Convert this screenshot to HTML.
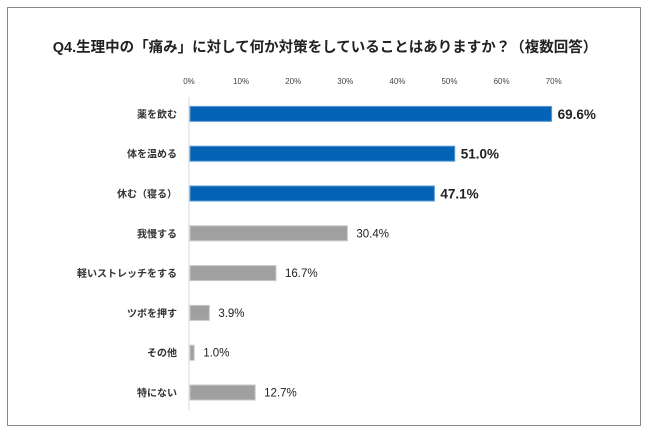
<!DOCTYPE html>
<html><head><meta charset="utf-8">
<style>
body{margin:0;background:#fff;width:650px;height:434px;overflow:hidden;font-family:"Liberation Sans","Noto Sans CJK JP",sans-serif;}
#frame{position:absolute;left:7px;top:7px;width:634px;height:419px;border:1.5px solid #8a8a8a;box-sizing:border-box;}
#title{position:absolute;left:0;width:650px;top:36px;text-align:center;font-size:14.5px;font-weight:bold;color:#222;}
</style></head><body>
<div id="frame"></div>
<div id="title">Q4.生理中の「痛み」に対して何か対策をしていることはありますか？（複数回答）</div>
<svg id="chart" width="650" height="434" style="position:absolute;left:0;top:0"></svg>
<script>
const categories=["薬を飲む","体を温める","休む（寝る）","我慢する","軽いストレッチをする","ツボを押す","その他","特にない"];
const values=[69.6,51.0,47.1,30.4,16.7,3.9,1.0,12.7];
const highlighted=[true,true,true,false,false,false,false,false];
const ticks=[0,10,20,30,40,50,60,70];
const tickLabels=["0%","10%","20%","30%","40%","50%","60%","70%"];
const NS="http://www.w3.org/2000/svg";
const svg=document.getElementById('chart');
const x0=189,pxPer=5.21,yTop=97,band=39.8,barH=15;
const xs=v=>x0+v*pxPer;
const yc=i=>yTop+band*(i+0.5)-3;
function mk(t,a){const e=document.createElementNS(NS,t);for(const k in a)e.setAttribute(k,a[k]);svg.appendChild(e);return e;}
ticks.forEach((t,i)=>{
  const e=mk('text',{x:xs(t),y:84,'text-anchor':'middle','font-size':8,fill:'#444'});
  e.textContent=tickLabels[i];
  
  
});
const ax=mk('line',{x1:x0,x2:x0,y1:yTop,y2:410,stroke:'#d9d9d9','stroke-width':1});


categories.forEach((c,i)=>{
  const y=yc(i);
  const l=mk('text',{x:177,y:y+4,'text-anchor':'end','font-size':10,'font-weight':'bold',fill:'#333'});
  l.textContent=c;
  
  
  const r=mk('rect',{x:x0+1,y:y-barH/2,width:Math.max(0,xs(values[i])-x0-1),height:barH,fill:highlighted[i]?'#0563b5':'#a0a0a0',stroke:highlighted[i]?'#5b9bd5':'#c8c8c8','stroke-width':1});
  
  
  const v=mk('text',{x:xs(values[i])+(highlighted[i]?6:9),y:y+(highlighted[i]?5:4),'font-size':highlighted[i]?13.5:11.5,'font-weight':highlighted[i]?'bold':'normal',fill:'#222'});
  v.textContent=values[i].toFixed(1)+'%';
  
  
});
</script>
</body></html>
